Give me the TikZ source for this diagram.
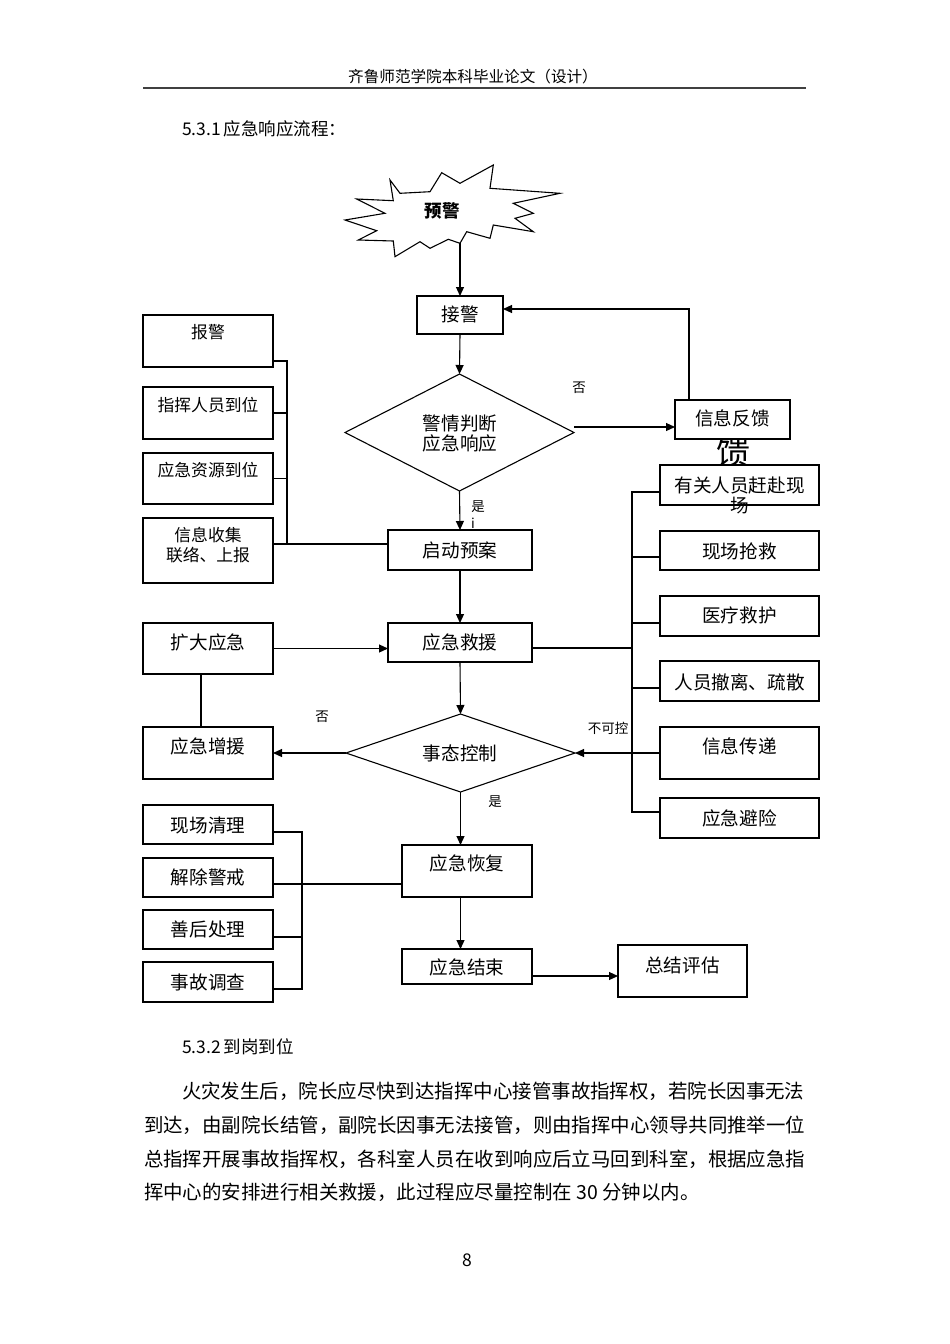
\documentclass[tikz,border=0pt]{standalone}
\usepackage{fontspec}
\setmainfont{Noto Sans CJK SC}
\usetikzlibrary{arrows.meta,shapes.geometric}
\begin{document}
\begin{tikzpicture}[x=1pt,y=-1pt,
  every node/.style={inner sep=0pt, outer sep=0pt},
  box/.style={draw=black, fill=white, line width=1.1pt, inner sep=0pt, outer sep=0pt},
  dia/.style={draw=black, fill=white, diamond, line width=1.1pt, inner sep=0pt, outer sep=0pt},
  ln/.style={line width=1.1pt},
  arr/.style={line width=1.1pt, -{Triangle[length=9pt,width=8pt]}},
  t/.style={font=\fontsize{18.6}{20}\selectfont},
  ts/.style={font=\fontsize{16.8}{20}\selectfont},
  lb/.style={font=\fontsize{13.5}{15}\selectfont},
  body/.style={font=\fontsize{19.45}{23}\selectfont, anchor=west},
  head/.style={font=\fontsize{17.5}{20}\selectfont, anchor=west}]
\fill[white] (0,0) rectangle (950,1344);
\useasboundingbox (0,0) rectangle (950,1344);

% page header
\node[font=\fontsize{15.6}{18}\selectfont] (hdr) at (473,77) {齐鲁师范学院本科毕业论文（设计）};
\coordinate (hl1) at (143,88);
\coordinate (hl2) at (806,88);
\draw[line width=1.4pt, black!75] (hl1) -- (hl2);
\node[head] (h1) at (182,129) {5.3.1\,应急响应流程：};

% star
\draw[ln, fill=white] (345,220) -- (385,213.3) -- (356.7,199) -- (393.3,200.7) -- (390,180)
  -- (400,193.3) -- (430,191.7) -- (441.7,172.7) -- (460,183.3) -- (493.3,165)
  -- (490,188.3) -- (560,193.3) -- (513.3,203.3) -- (533.3,213.3) -- (515,218.3)
  -- (533.3,231.7) -- (493.3,225) -- (490,238.3) -- (466.7,231.7) -- (460,243.3)
  -- (448.3,239.3) -- (430,248.3) -- (420,241.7) -- (395,256.7) -- (393.3,241)
  -- (358.3,240) -- (376.7,230.7) -- cycle;
\coordinate (starbot) at (460,243.3);
\node[font=\bfseries\fontsize{17.5}{20}\selectfont] (yj) at (442,211) {预警};

% central column
\node[box, minimum width=86pt, minimum height=38pt] (jj) at (460,315) {};
\node[t] (jjt) at (460,314) {接警};
\node[dia, minimum width=229pt, minimum height=117pt] (d1) at (459.5,432.5) {};
\node[t, align=center, font=\fontsize{18.6}{20}\selectfont] (d1t) at (460,433) {警情判断\\应急响应};
\node[font=\fontsize{34}{36}\selectfont] (kui) at (733,452) {馈};
\node[box, minimum width=115pt, minimum height=39pt] (fk) at (732.5,419.5) {};
\node[t] (fkt) at (732.5,418) {信息反馈};
\node[box, minimum width=144pt, minimum height=40pt] (qd) at (460,550) {};
\node[t] (qdt) at (460,550) {启动预案};
\node[box, minimum width=144pt, minimum height=39pt] (jy) at (460,642.5) {};
\node[t] (jyt) at (460,642) {应急救援};
\node[dia, minimum width=229pt, minimum height=78pt] (d2) at (460.5,753) {};
\node[t] (d2t) at (460,753) {事态控制};
\node[box, minimum width=130pt, minimum height=52pt] (hf) at (467,871) {};
\node[t] (hft) at (467,863) {应急恢复};
\node[box, minimum width=130pt, minimum height=35pt] (js) at (467,966.5) {};
\node[t] (jst) at (467,967) {应急结束};
\node[box, minimum width=129pt, minimum height=52pt] (zj) at (682.5,971) {};
\node[t] (zjt) at (682.5,965) {总结评估};

% left column
\node[box, minimum width=130pt, minimum height=52pt] (bj) at (208,341) {};
\node[ts] (bjt) at (208,332) {报警};
\node[box, minimum width=130pt, minimum height=52pt] (zh) at (208,413) {};
\node[ts] (zht) at (208,405) {指挥人员到位};
\node[box, minimum width=130pt, minimum height=51pt] (zy) at (208,478.5) {};
\node[ts] (zyt) at (208,470) {应急资源到位};
\node[box, minimum width=130pt, minimum height=65pt] (xx) at (208,550.5) {};
\node[ts, align=center] (xxt) at (208,545) {信息收集\\联络、上报};
\node[box, minimum width=130pt, minimum height=51pt] (kd) at (208,648.5) {};
\node[t] (kdt) at (208,642) {扩大应急};
\node[box, minimum width=130pt, minimum height=52pt] (zz) at (208,753) {};
\node[t] (zzt) at (208,746) {应急增援};
\node[box, minimum width=130pt, minimum height=39pt] (xc) at (208,824.5) {};
\node[t] (xct) at (208,825) {现场清理};
\node[box, minimum width=130pt, minimum height=39pt] (jc) at (208,877.5) {};
\node[t] (jct) at (208,877) {解除警戒};
\node[box, minimum width=130pt, minimum height=39pt] (sh) at (208,929.5) {};
\node[t] (sht) at (208,929) {善后处理};
\node[box, minimum width=130pt, minimum height=40pt] (sg) at (208,982) {};
\node[t] (sgt) at (208,982) {事故调查};

% right column
\node[box, minimum width=159pt, minimum height=40pt] (r1) at (739.5,485) {};
\node[t] (r1t) at (739.5,485) {有关人员赶赴现};
\node[t] (r1u) at (739.5,506) {场};
\node[box, minimum width=159pt, minimum height=39pt] (r2) at (739.5,550.5) {};
\node[t] (r2t) at (739.5,551) {现场抢救};
\node[box, minimum width=159pt, minimum height=40pt] (r3) at (739.5,616) {};
\node[t] (r3t) at (739.5,615) {医疗救护};
\node[box, minimum width=159pt, minimum height=40pt] (r4) at (739.5,681) {};
\node[t] (r4t) at (739.5,682) {人员撤离、疏散};
\node[box, minimum width=159pt, minimum height=52pt] (r5) at (739.5,753) {};
\node[t] (r5t) at (739.5,746) {信息传递};
\node[box, minimum width=159pt, minimum height=40pt] (r6) at (739.5,818) {};
\node[t] (r6t) at (739.5,818) {应急避险};

% labels
\node[lb] (no1) at (579,388) {否};
\node[lb] (yes1) at (478,507) {是};
\node[lb] (ii) at (473,523) {i};
\node[lb] (no2) at (322,717) {否};
\node[lb] (yes2) at (495,802) {是};
\node[lb] (bkk) at (608,728) {不可控};

% main flow
\draw[arr] (starbot) -- (jj.north);
\draw[arr] (jj.south) -- (d1.north);
\draw[arr] (d1.south) -- (qd.north);
\draw[arr] (qd.south) -- (jy.north);
\draw[arr] (jy.south) -- (d2.north);
\draw[arr] (d2.south) -- (d2.south |- hf.north);
\draw[arr] (d2.south |- hf.south) -- (d2.south |- js.north);
\draw[arr] ([yshift=-9.5pt]js.east) -- ([yshift=-9.5pt]js.east -| zj.west);

% feedback loop
\draw[arr] ([yshift=5.5pt]d1.east) -- ([yshift=5.5pt]d1.east -| fk.west);
\draw[arr] ([xshift=-43.5pt]fk.north) |- ([yshift=6pt]jj.east);

% left top bus
\coordinate (ba1) at (287,361);
\coordinate (ba2) at (287,544);
\draw[ln] (bj.east |- ba1) -- (ba1) -- (ba2);
\draw[ln] (zh.east) -- (zh.east -| ba1);
\draw[ln] (zy.east) -- (zy.east -| ba1);
\draw[ln] (xx.east |- ba2) -- (qd.west |- ba2);

% expand / reinforce
\draw[arr] (kd.east) -- (kd.east -| jy.west);
\draw[ln] ([xshift=-7pt]kd.south) -- ([xshift=-7pt]zz.north);
\draw[arr] (d2.west) -- (zz.east);

% right bus
\coordinate (bb1) at (632,492);
\coordinate (bb2) at (632,812);
\draw[ln] (r1.west |- bb1) -- (bb1) -- (bb2) -- (r6.west |- bb2);
\draw[ln] ([yshift=-6.5pt]r2.west) -- ([yshift=-6.5pt]r2.west -| bb1);
\draw[ln] ([yshift=-7pt]r3.west) -- ([yshift=-7pt]r3.west -| bb1);
\draw[ln] ([yshift=-7pt]r4.west) -- ([yshift=-7pt]r4.west -| bb1);
\draw[ln] ([yshift=-5.5pt]jy.east) -- ([yshift=-5.5pt]jy.east -| bb1);
\draw[arr] (r5.west) -- (d2.east);

% bottom left bus
\coordinate (bc1) at (302,832);
\coordinate (bc2) at (302,989);
\draw[ln] (xc.east |- bc1) -- (bc1) -- (bc2) -- (sg.east |- bc2);
\draw[ln] ([yshift=-6.5pt]jc.east) -- ([yshift=-6.5pt]jc.east -| hf.west);
\draw[ln] ([yshift=-7.5pt]sh.east) -- ([yshift=-7.5pt]sh.east -| bc1);

% body text
\node[head] (h2) at (182,1047) {5.3.2\,到岗到位};
\node[body] (p1) at (182,1091) {火灾发生后，院长应尽快到达指挥中心接管事故指挥权，若院长因事无法};
\node[body] (p2) at (144,1125) {到达，由副院长结管，副院长因事无法接管，则由指挥中心领导共同推举一位};
\node[body] (p3) at (144,1159) {总指挥开展事故指挥权，各科室人员在收到响应后立马回到科室，根据应急指};
\node[body] (p4) at (144,1192) {挥中心的安排进行相关救援，此过程应尽量控制在 30 分钟以内。};
\node[font=\fontsize{17.5}{20}\selectfont] (pg) at (467,1260) {8};
\end{tikzpicture}
\end{document}
